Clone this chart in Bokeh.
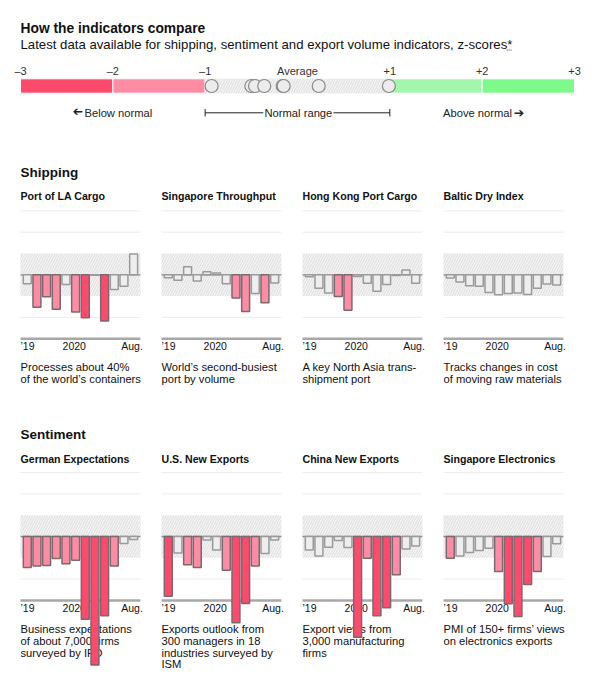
import math
from bokeh.plotting import figure
from bokeh.layouts import column, row
from bokeh.models import Range1d, Spacer
from bokeh.core.properties import value
from bokeh.embed import file_html
from bokeh.resources import INLINE

FONT = value("Liberation Sans")

# ---------------- data ----------------
scale_edges = [-3, -2, -1, 1, 2, 3]
scale_tick_vals = [-3, -2, -1, 0, 1, 2, 3]
scale_tick_labels = ["\u20133", "\u20132", "\u20131", "Average", "+1", "+2", "+3"]
latest_zscores = [-0.93, -0.50, -0.46, -0.36, -0.16, -0.15, 0.23, 0.99]

month_idx = list(range(12))  # Sep 2019 .. Aug 2020
time_labels = ["\u201919", "2020", "Aug."]

panel_titles_ship = ["Port of LA Cargo", "Singapore Throughput", "Hong Kong Port Cargo", "Baltic Dry Index"]
panel_titles_sent = ["German Expectations", "U.S. New Exports", "China New Exports", "Singapore Electronics"]

la_cargo = [-0.42, -1.52, -1.03, -1.62, -0.46, -1.75, -2.02, -0.02, -2.17, -0.69, -0.54, 0.98]
sg_throughput = [-0.14, -0.26, 0.38, -0.29, 0.14, 0.09, -0.42, -1.09, -1.72, -0.88, -1.31, -0.38]
hk_cargo = [-0.09, -0.63, -0.85, -1.02, -1.66, -0.08, -0.40, -0.77, -0.45, -0.03, 0.23, -0.40]
baltic_dry = [-0.15, -0.34, -0.51, -0.54, -0.83, -0.94, -0.88, -0.85, -0.92, -0.63, -0.43, -0.48]
german_exp = [-1.45, -1.39, -1.36, -1.03, -1.28, -1.12, -3.89, -6.03, -3.72, -1.39, -0.33, -0.14]
us_exports = [-2.81, -0.78, -1.33, -1.45, -0.16, -0.63, -1.59, -4.05, -3.14, -1.38, -0.80, -0.16]
china_exports = [-0.63, -0.91, -0.50, -0.19, -0.52, -4.73, -1.02, -3.72, -3.34, -1.80, -0.59, -0.45]
sg_electronics = [-1.02, -0.91, -0.75, -0.66, -0.55, -1.64, -3.16, -3.75, -2.25, -1.64, -0.94, -0.34]

desc_ship = [
    ["Processes about 40%", "of the world\u2019s containers"],
    ["World\u2019s second-busiest", "port by volume"],
    ["A key North Asia trans-", "shipment port"],
    ["Tracks changes in cost", "of moving raw materials"],
]
desc_sent = [
    ["Business expectations", "of about 7,000 firms", "surveyed by IFO"],
    ["Exports outlook from", "300 managers in 18", "industries surveyed by", "ISM"],
    ["Export views from", "3,000 manufacturing", "firms"],
    ["PMI of 150+ firms\u2019 views", "on electronics exports"],
]

# ---------------- styles ----------------
DARK_RED = "#ff4a6e"
PINK = "#ff8ca5"
LIGHT_GREEN = "#a2f7ac"
GREEN = "#7ff98b"
GRAY_FILL = "#eeeeee"
BAND_FILL = "#f4f4f4"
HATCH = "#dddddd"
TXT = "#111111"


def zcolor(z):
    if z <= -2:
        return DARK_RED
    if z <= -1:
        return PINK
    if z < 1:
        return GRAY_FILL
    if z < 2:
        return LIGHT_GREEN
    return GREEN


def zline(z):
    return "#9a9a9a" if -1 < z < 1 else "#7a6a6e"


def base_fig(w, h, xr, yr):
    p = figure(width=w, height=h, x_range=xr, y_range=yr, output_backend="svg",
               toolbar_location=None, min_border=0, outline_line_color=None,
               x_axis_type=None, y_axis_type=None)
    p.grid.visible = False
    p.background_fill_color = "white"
    p.border_fill_color = "white"
    return p


# ---------------- header (y measured from page top) ----------------
HW, HH = 597, 183
UNIT = 92.33
x0 = -3 - 20 / UNIT
header = base_fig(HW, HH, Range1d(x0, x0 + HW / UNIT), Range1d(HH, 0))

header.text(x=[-3], y=[28.3], text=["How the indicators compare"], text_font=FONT,
            text_font_size="13.8px", text_font_style="bold", text_color=TXT,
            text_align="left", text_baseline="middle")
header.text(x=[-3], y=[43.5], text=["Latest data available for shipping, sentiment and export volume indicators, z-scores*"],
            text_font=FONT, text_font_size="13.2px", text_color=TXT,
            text_align="left", text_baseline="middle")
header.segment(x0=[2.265], x1=[2.32], y0=[49.5], y1=[49.5], line_color="#444444",
               line_width=1, line_dash="1 1")
header.text(x=scale_tick_vals, y=[70.7] * len(scale_tick_vals), text=scale_tick_labels,
            text_font=FONT, text_font_size="11px", text_color="#333333",
            text_align="center", text_baseline="middle")

seg_left = scale_edges[:-1]
seg_right = scale_edges[1:]
seg_colors = [DARK_RED, PINK, BAND_FILL, LIGHT_GREEN, GREEN]
header.quad(left=seg_left, right=seg_right, top=[78.3] * 5, bottom=[92.7] * 5,
            fill_color=seg_colors, line_color="white", line_width=1)
header.quad(left=[-1], right=[1], top=[78.3], bottom=[92.7], fill_color=BAND_FILL,
            line_color=None, hatch_pattern="/", hatch_color=HATCH, hatch_scale=5, hatch_weight=1)
header.scatter(x=latest_zscores, y=[85.5] * len(latest_zscores), size=13,
               fill_color="#ececec", line_color="#8a8a8a", line_width=1.2)

header.text(x=[-1.94, 0.01, 1.95], y=[112.3] * 3,
            text=["Below normal", "Normal range", "Above normal"],
            text_font=FONT, text_font_size="11.2px", text_color="#222222",
            text_align="center", text_baseline="middle")
header.text(x=[-2.38, 2.40], y=[112.3, 112.3], text=["\u2794", "\u2794"],
            angle=[math.pi, 0], text_font=value("DejaVu Sans"), text_font_size="12.5px",
            text_font_style="bold", text_color="#222222", text_align="center",
            text_baseline="middle")
header.segment(x0=[-1, 0.39], x1=[-0.37, 1], y0=[112.3, 112.3], y1=[112.3, 112.3],
               line_color="#222222", line_width=1)
header.segment(x0=[-1, 1], x1=[-1, 1], y0=[108.5, 108.5], y1=[116, 116],
               line_color="#222222", line_width=1)
header.text(x=[-3], y=[172], text=["Shipping"], text_font=FONT, text_font_size="13.5px",
            text_font_style="bold", text_color=TXT, text_align="left", text_baseline="middle")

# ---------------- panels ----------------
PW = 141
XU = 9.67
px0 = -0.7 - 12 / XU
ZU = 21.3
CHART_L, CHART_R = -0.7, 11.7


def panel(title, vals, desc, h, zero_px, top_px):
    # zero_px: y of zero line measured from the top of this figure
    def zy(y_from_top):
        return (zero_px - y_from_top) / ZU

    p = base_fig(PW, h, Range1d(px0, px0 + PW / XU), Range1d(zy(h), zy(0)))
    p.text(x=[CHART_L], y=[zy(top_px)], text=[title], text_font=FONT, text_font_size="10.6px",
           text_font_style="bold", text_color=TXT, text_align="left", text_baseline="middle")
    p.segment(x0=[CHART_L] * 3, x1=[CHART_R] * 3, y0=[3, 2, -2], y1=[3, 2, -2],
              line_color="#ececec", line_width=1)
    p.quad(left=[CHART_L], right=[CHART_R], top=[1], bottom=[-1], fill_color=BAND_FILL,
           line_color=None, hatch_pattern="/", hatch_color=HATCH, hatch_scale=5, hatch_weight=1)
    p.segment(x0=[CHART_L], x1=[CHART_R], y0=[0], y1=[0], line_color="#8c8c8c", line_width=1.3)
    p.segment(x0=[CHART_L], x1=[CHART_R], y0=[-3], y1=[-3], line_color="#a8a8a8", line_width=2.5)
    p.text(x=[CHART_L, 3.65, 11.95], y=[-3.35] * 3, text=time_labels, text_font=FONT,
           text_font_size="10.5px", text_color=TXT, text_align=["left", "left", "right"],
           text_baseline="middle")
    p.text(x=[CHART_L] * len(desc), y=[-4.34 - 0.555 * i for i in range(len(desc))], text=desc,
           text_font=FONT, text_font_size="11.2px", text_color=TXT, text_align="left",
           text_baseline="middle")
    p.vbar(x=month_idx, top=[max(v, 0) for v in vals], bottom=[min(v, 0) for v in vals],
           width=0.82, fill_color=[zcolor(v) for v in vals], line_color=[zline(v) for v in vals],
           line_width=1.5)
    return p


ship_vals = [la_cargo, sg_throughput, hk_cargo, baltic_dry]
sent_vals = [german_exp, us_exports, china_exports, sg_electronics]

SH = 217  # page y 183 .. 400
ship_row = row([Spacer(width=8, height=SH)] +
               [panel(t, v, d, SH, 274.3 - 183, 195.7 - 183)
                for t, v, d in zip(panel_titles_ship, ship_vals, desc_ship)], spacing=0)

sent_header = base_fig(HW, 45, Range1d(x0, x0 + HW / UNIT), Range1d(45, 0))
sent_header.text(x=[-3], y=[34], text=["Sentiment"], text_font=FONT, text_font_size="13.5px",
                 text_font_style="bold", text_color=TXT, text_align="left", text_baseline="middle")

TH = 243  # page y 445 .. 688
sent_row = row([Spacer(width=8, height=TH)] +
               [panel(t, v, d, TH, 536 - 445, 458.3 - 445)
                for t, v, d in zip(panel_titles_sent, sent_vals, desc_sent)], spacing=0)

layout = column([header, ship_row, sent_header, sent_row], spacing=0)

open("out.html", "w").write(file_html(layout, INLINE))
